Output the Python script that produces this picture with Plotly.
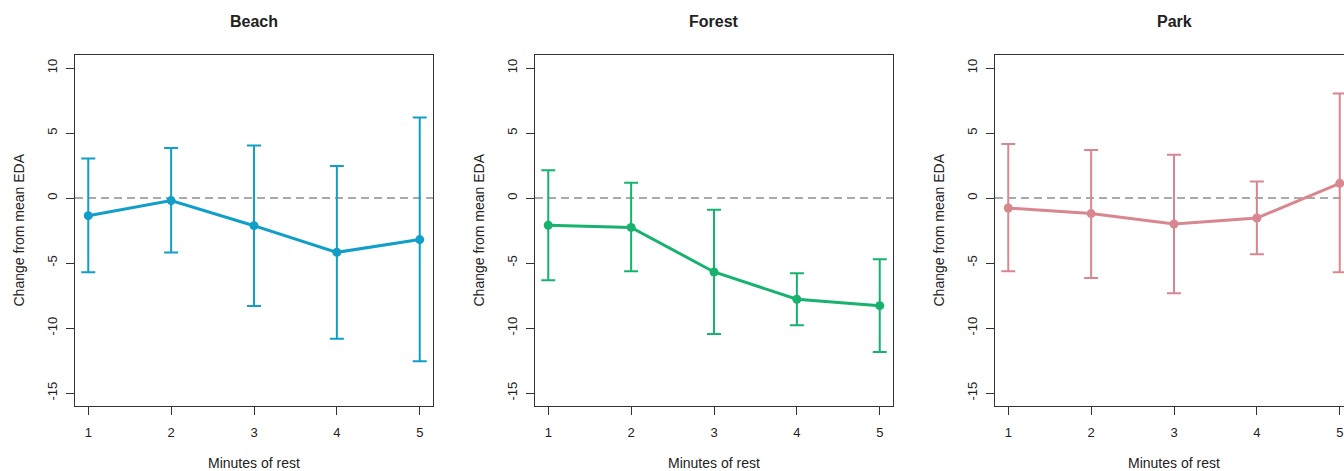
import plotly.graph_objects as go

W, H = 1344, 471

minutes = [1, 2, 3, 4, 5]
panels = ["Beach", "Forest", "Park"]
colors = ["#119fc8", "#17b26e", "#d9878f"]

beach_mean = [-1.36, -0.2, -2.13, -4.18, -3.2]
beach_lower = [-5.72, -4.2, -8.31, -10.82, -12.56]
beach_upper = [3.03, 3.85, 4.03, 2.46, 6.2]

forest_mean = [-2.1, -2.26, -5.69, -7.79, -8.28]
forest_lower = [-6.33, -5.64, -10.46, -9.79, -11.85]
forest_upper = [2.13, 1.18, -0.9, -5.79, -4.72]

park_mean = [-0.77, -1.2, -2.0, -1.54, 1.13]
park_lower = [-5.64, -6.15, -7.33, -4.33, -5.72]
park_upper = [4.15, 3.69, 3.33, 1.26, 8.03]

y_ticks = [-15, -10, -5, 0, 5, 10]
x_title = "Minutes of rest"
y_title = "Change from mean EDA"

means = [beach_mean, forest_mean, park_mean]
lowers = [beach_lower, forest_lower, park_lower]
uppers = [beach_upper, forest_upper, park_upper]

# pixel layout of each panel box
box_left = [75, 535, 995]
box_w = 358
top_px, bot_px = 55, 406
xr = [0.84, 5.16]
px_per_unit = box_w / (xr[1] - xr[0])

FONT = "Liberation Sans, Arial, sans-serif"
TXT = "#222222"
AX = "#333333"

fig = go.Figure()
layout = dict(
    width=W, height=H,
    margin=dict(l=0, r=0, t=0, b=0),
    paper_bgcolor="white", plot_bgcolor="white",
    showlegend=False,
    font=dict(family=FONT, color=TXT, size=14),
)
annotations = []
shapes = []
ydom = [1 - bot_px / H, 1 - top_px / H]

for i in range(3):
    sfx = "" if i == 0 else str(i + 1)
    xa, ya = "x" + sfx, "y" + sfx
    m, lo, up = means[i], lowers[i], uppers[i]
    fig.add_trace(go.Scatter(
        x=minutes, y=m, mode="lines+markers",
        line=dict(color=colors[i], width=3),
        marker=dict(color=colors[i], size=9),
        error_y=dict(type="data", symmetric=False,
                     array=[u - v for u, v in zip(up, m)],
                     arrayminus=[v - l for v, l in zip(m, lo)],
                     color=colors[i], thickness=2, width=7),
        xaxis=xa, yaxis=ya, cliponaxis=False,
    ))
    left = box_left[i]
    right = left + box_w
    if right > W:
        rng = [xr[0], xr[0] + (W - left) / px_per_unit]
        right = W
    else:
        rng = xr
    xd = [left / W, right / W]
    layout["xaxis" + sfx] = dict(
        domain=xd, range=rng, anchor=ya,
        tickvals=minutes, ticktext=[str(v) for v in minutes],
        ticks="outside", ticklen=8, tickwidth=1, tickcolor=AX,
        ticklabelstandoff=6,
        showline=True, linecolor=AX, linewidth=1, mirror=True,
        showgrid=False, zeroline=False,
        tickfont=dict(size=13, color=TXT, family=FONT),
    )
    layout["yaxis" + sfx] = dict(
        domain=ydom, range=[-16, 11], anchor=xa,
        tickvals=y_ticks, ticktext=[str(v) for v in y_ticks],
        tickangle=-90,
        ticks="outside", ticklen=8, tickwidth=1, tickcolor=AX,
        ticklabelstandoff=4,
        showline=True, linecolor=AX, linewidth=1, mirror=(i < 2),
        showgrid=False, zeroline=False,
        tickfont=dict(size=13, color=TXT, family=FONT),
    )
    shapes.append(dict(type="line", xref=xa + " domain", yref=ya,
                       x0=0, x1=1, y0=0, y1=0, layer="below",
                       line=dict(color="#aaaaaa", width=2, dash="8px,5px")))
    cx = (box_left[i] + box_w / 2) / W
    annotations.append(dict(text="<b>" + panels[i] + "</b>", x=cx, y=1 - 22 / H,
                            xref="paper", yref="paper", showarrow=False,
                            font=dict(size=16, color=TXT, family=FONT),
                            xanchor="center", yanchor="middle"))
    annotations.append(dict(text=x_title, x=cx, y=1 - 463 / H,
                            xref="paper", yref="paper", showarrow=False,
                            font=dict(size=14, color=TXT, family=FONT),
                            xanchor="center", yanchor="middle"))
    annotations.append(dict(text=y_title, x=(box_left[i] - 57) / W,
                            y=1 - ((top_px + bot_px) / 2) / H,
                            xref="paper", yref="paper", showarrow=False,
                            textangle=-90,
                            font=dict(size=14, color=TXT, family=FONT),
                            xanchor="center", yanchor="middle"))

layout["annotations"] = annotations
layout["shapes"] = shapes
fig.update_layout(**layout)
fig.write_html("out.html", config={"displayModeBar": False},
               post_script="document.body.style.margin='0px';document.body.style.overflow='hidden';")
